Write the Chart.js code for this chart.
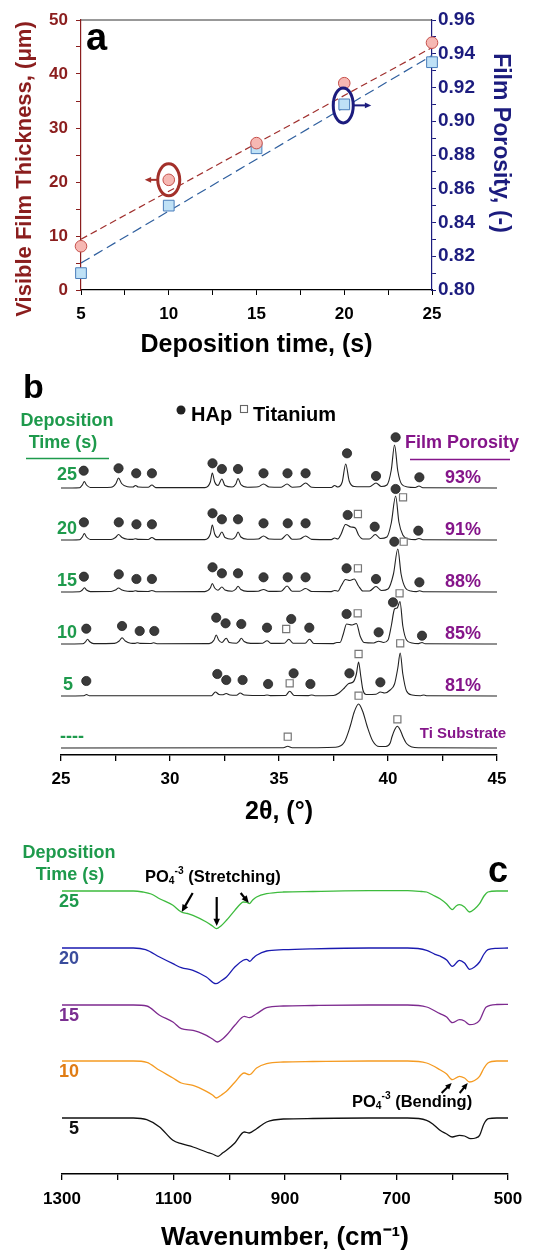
<!DOCTYPE html>
<html>
<head>
<meta charset="utf-8">
<script src="https://cdn.jsdelivr.net/npm/chart.js@4.4.1/dist/chart.umd.min.js"></script>
<style>
html, body { margin: 0; padding: 0; background: #fff; }
body { width: 556px; height: 1253px; position: relative; overflow: hidden; }
.panel { position: absolute; left: 0; width: 556px; }
</style>
</head>
<body>
<div class="panel" style="top:0;height:365px"><canvas id="chartA"></canvas></div>
<div class="panel" style="top:370px;height:470px"><canvas id="chartB"></canvas></div>
<div class="panel" style="top:840px;height:413px"><canvas id="chartC"></canvas></div>
<script>
// ---------- panel a : thickness / porosity vs deposition time ----------
const depTime = [5, 10, 15, 20, 25];
const thickness = [8.1, 20.4, 27.2, 38.3, 45.8];
const porosity = [0.810, 0.850, 0.884, 0.910, 0.935];
const fitTime = [5, 25];
const thickFit = [9.4, 44.9];
const porosityFit = [0.816, 0.939];

// ---------- panel b : XRD, [2theta, counts above baseline] ----------
const xrdLabels = ['25', '20', '15', '10', '5', '----'];
const xrdPorosity = ['93%', '91%', '88%', '85%', '81%', 'Ti Substrate'];
const xrdOffsets = [267, 215, 163, 111, 59, 7];

const xrd25 = [[25,0],[25.85,0.3],[25.98,3],[26.07,6.5],[26.17,3],[26.35,0.5],
  [27.3,0.8],[27.52,4.5],[27.64,10],[27.78,4.5],[28.05,1.2],[28.3,1],[28.42,2.5],[28.55,1],
  [29.0,0.8],[29.17,3],[29.35,0.4],[31.6,0.4],[31.85,6],[31.94,15],[32.05,6],[32.2,2.5],
  [32.38,9],[32.52,2.5],[32.85,1],[33.02,4],[33.12,9.5],[33.25,3.5],[33.55,0.8],
  [34.05,1.2],[34.29,4],[34.55,1],[35.1,0.8],[35.37,4],[35.6,0.8],[35.95,1.2],[36.22,5],[36.5,0.8],
  [37.4,0.5],[37.55,2.5],[37.7,1],[37.9,6],[38.06,24],[38.22,7],[38.45,1.5],
  [39.15,1.2],[39.45,5],[39.7,1.5],[39.95,3],[40.15,18],[40.3,43],[40.45,17],[40.62,4],[40.9,1],
  [41.25,0.5],[41.42,2],[41.6,0.3],[45,0]];
const xrd20 = [[25,0],[25.85,0.3],[25.98,3],[26.07,6.5],[26.17,3],[26.35,0.5],
  [27.3,0.5],[27.5,2.5],[27.64,5.5],[27.8,2.5],[28.05,0.8],[28.3,0.6],[28.42,1.2],[28.55,0.6],
  [29.0,0.5],[29.17,2.5],[29.35,0.4],[31.6,0.4],[31.85,6],[31.94,15],[32.05,6],[32.2,2.5],
  [32.38,8],[32.52,2.5],[32.85,0.8],[33.02,3.5],[33.12,8],[33.25,3],[33.55,0.8],
  [34.05,1],[34.29,4],[34.55,1],[35.1,0.8],[35.37,5.5],[35.6,0.8],[35.95,1],[36.22,4],[36.5,0.6],
  [37.4,0.4],[37.55,2],[37.7,1],[37.85,6],[38.05,15.5],[38.3,13],[38.5,12],[38.65,5],[38.85,1],
  [39.15,1],[39.42,5.5],[39.65,1.5],[39.95,3],[40.15,17],[40.35,44],[40.5,18],[40.68,5],[40.95,1],
  [41.25,0.4],[41.42,1.5],[41.6,0.3],[45,0]];
const xrd15 = [[25,0],[25.85,0.3],[25.98,2],[26.07,4.3],[26.17,2],[26.35,0.4],
  [27.3,0.5],[27.5,2],[27.64,4],[27.8,2],[28.05,0.8],[28.3,0.6],[28.42,1.2],[28.55,0.6],
  [29.0,0.5],[29.17,1.5],[29.35,0.3],[31.6,0.4],[31.85,4],[31.94,8.5],[32.05,4],[32.2,1.8],
  [32.38,5],[32.52,2],[32.85,0.8],[33.02,2.8],[33.12,5.7],[33.25,2.5],[33.55,0.6],
  [34.05,0.8],[34.29,2.5],[34.55,0.6],[35.1,0.8],[35.37,6],[35.6,0.8],[35.95,0.8],[36.22,3.5],[36.5,0.5],
  [37.4,0.4],[37.55,1.5],[37.7,0.8],[37.85,6],[38.05,12.5],[38.25,11.5],[38.45,13],[38.65,6],[38.85,1],
  [39.15,1],[39.45,5.5],[39.7,1.5],[40.0,3],[40.25,18],[40.45,43],[40.6,18],[40.8,4],[41.05,1],
  [41.3,0.4],[41.45,1.2],[41.6,0.3],[45,0]];
const xrd10 = [[25,0],[26.0,0.3],[26.12,2.2],[26.22,4.7],[26.32,2.2],[26.5,0.4],
  [27.45,0.6],[27.67,3],[27.8,6.3],[27.95,3],[28.2,0.8],[28.4,0.6],[28.5,1.2],[28.62,0.6],
  [29.1,0.5],[29.25,1.2],[29.4,0.3],[31.8,0.4],[32.02,4],[32.12,9],[32.23,4],[32.38,1.5],
  [32.58,5.7],[32.72,1.5],[33.05,0.7],[33.17,2.8],[33.27,5.7],[33.4,2.5],[33.7,0.6],
  [34.25,0.8],[34.45,3.3],[34.65,0.6],[35.25,0.8],[35.45,4.7],[35.65,0.8],[36.2,0.8],[36.4,4.7],[36.6,0.5],
  [37.5,0.4],[37.65,1.5],[37.8,1.5],[37.95,10],[38.1,20],[38.35,19],[38.55,20.5],[38.72,8],[38.9,1.5],
  [39.35,1],[39.57,2.8],[39.8,1.5],[40.0,4],[40.15,18],[40.3,35],[40.42,36],[40.55,42.5],[40.68,18],
  [40.85,4],[41.1,1],[41.4,0.4],[41.56,1.5],[41.7,0.3],[45,0]];
const xrd5 = [[25,0],[26.05,0.3],[26.17,1.5],[26.3,0.3],[31.9,0.3],[32.08,4],[32.25,1.5],[32.4,1.2],
  [32.58,2.5],[32.75,1],[33.05,0.8],[33.22,3],[33.4,1],[34.3,0.5],[34.45,1],[34.6,0.4],
  [35.3,0.5],[35.49,4.7],[35.7,0.5],[36.35,0.4],[36.5,1],[36.65,0.3],
  [37.5,0.5],[37.75,3],[38.0,8],[38.2,12.5],[38.4,14],[38.55,22],[38.65,34],[38.75,20],[38.85,6],[39.0,1.5],
  [39.45,1.8],[39.65,4],[39.85,3],[40.1,6],[40.3,12],[40.45,28],[40.56,43],[40.68,22],[40.85,5],[41.1,1],
  [41.5,0.3],[41.65,1],[41.8,0.2],[45,0]];
const xrdTi = [[25,0],[35.2,0.3],[35.4,1.7],[35.6,0.3],[37.6,0.8],[38.0,6],[38.27,22],[38.45,36],
  [38.65,44],[38.85,36],[39.04,22],[39.3,7],[39.6,1.5],[39.9,1.5],[40.1,5],[40.18,11],[40.3,18],
  [40.43,21.7],[40.56,18],[40.69,11],[40.85,4.5],[41.1,1],[41.4,0.2],[45,0]];

// phase markers: [2theta, height above baseline]
const hap25 = [[26.04,17.3],[27.64,19.7],[28.45,14.7],[29.17,14.7],[31.95,24.7],[32.38,19],[33.12,19],
  [34.29,14.7],[35.39,14.7],[36.22,14.7],[38.12,34.7],[39.45,12],[40.35,50.7],[41.44,10.7]];
const hap20 = [[26.05,17.7],[27.65,17.7],[28.46,15.7],[29.17,15.7],[31.95,26.7],[32.38,20.7],[33.12,20.7],
  [34.29,16.7],[35.4,16.7],[36.22,16.7],[38.15,25],[39.39,13.3],[40.35,51],[41.39,9.3]];
const hap15 = [[26.05,15.3],[27.65,17.7],[28.46,13],[29.17,13],[31.95,24.7],[32.38,18.7],[33.12,18.7],
  [34.29,14.7],[35.4,14.7],[36.22,14.7],[38.1,23.7],[39.45,13],[40.29,50.3],[41.44,9.7]];
const hap10 = [[26.16,15.3],[27.8,18],[28.61,13],[29.28,13],[32.12,26.3],[32.55,20.7],[33.27,20],
  [34.45,16.3],[35.56,25],[36.39,16.3],[38.1,30],[39.57,11.7],[40.23,41.7],[41.56,8.3]];
const hap5 = [[26.16,15],[32.17,22],[32.58,16],[33.33,16],[34.5,12],[35.67,22.7],[36.44,12],
  [38.23,22.7],[39.65,13.7]];
const ti25 = [];
const ti20 = [[38.62,26],[40.69,42.7]];
const ti15 = [[38.62,23.7],[40.72,50.3]];
const ti10 = [[35.33,15],[38.61,30.7],[40.53,50.7]];
const ti5 = [[35.49,12.7],[38.65,42],[40.56,52.7]];
const tiTi = [[35.4,11.3],[38.65,52.3],[40.43,28.7]];

// ---------- panel c : FTIR, [wavenumber, transmittance change] ----------
const ftirLabels = ['25', '20', '15', '10', '5'];
const ftirOffsets = [283, 226, 169, 113, 56];
const ftir25 = [[1300,0],[1250,0],[1172,0],[1155,-1],[1140,-3],[1125,-7.7],[1101,-14.3],[1086,-21],
  [1075,-22.5],[1065,-24.3],[1041,-31],[1030,-35],[1023,-37.7],[1015,-35],[1005,-29.3],[990,-19.3],
  [980,-13],[975,-11],[968,-11.5],[964,-12.7],[958,-9],[951,-6],[933,-2.7],[903,-1],[850,-0.5],
  [750,0.3],[680,0.3],[655,-0.5],[646,-1],[635,-4],[622,-7.7],[610,-13],[600,-18.7],[593,-15],
  [587,-13.7],[578,-16],[569,-21],[560,-18],[551,-12.7],[543,-5],[536,-1],[520,0],[500,0]];
const ftir20 = [[1300,0],[1172,0],[1150,-1.7],[1125,-9],[1101,-15.7],[1086,-19.7],[1065,-22.3],
  [1041,-29],[1024,-35.7],[1015,-33],[1005,-29],[990,-19],[975,-12.3],[969,-11.3],[963,-13.3],
  [957,-10],[951,-7.3],[933,-3],[903,-1.7],[850,-0.8],[750,0],[680,0],[646,-2.3],[631,-6.3],
  [622,-8],[610,-12],[600,-18.3],[587,-12.3],[578,-15],[569,-21.3],[560,-19],[551,-14],[543,-6],
  [536,-1.7],[520,-0.3],[500,0]];
const ftir15 = [[1300,0],[1172,0],[1148,-1],[1125,-10.3],[1101,-17],[1086,-23.7],[1065,-25.3],
  [1041,-30.3],[1030,-34],[1021,-37],[1012,-34],[1005,-30.3],[990,-20.3],[973,-11.3],[964,-12.7],
  [951,-8.7],[933,-2.7],[903,-1],[850,-0.5],[750,0],[680,0],[646,-2],[622,-8.7],[610,-12],
  [600,-17.7],[587,-14.7],[578,-16],[569,-19.7],[560,-19],[551,-15.3],[539,-2],[520,0.5],[500,0.7]];
const ftir10 = [[1300,0],[1172,0],[1148,-1.3],[1125,-9.3],[1101,-17],[1086,-22],[1065,-24.3],
  [1041,-30.3],[1030,-34],[1023,-37],[1014,-34],[1005,-30.3],[990,-21.3],[973,-12],[964,-13.7],
  [951,-7],[933,-2.7],[903,-1],[850,-0.5],[750,0],[680,0],[646,-2],[622,-8.7],[610,-13],
  [600,-18.7],[587,-15.3],[578,-17],[569,-21],[560,-19.5],[551,-15.3],[543,-7],[536,-2],[520,0],[500,0]];
const ftir5 = [[1300,0],[1172,0],[1148,-1.7],[1125,-9],[1101,-22.3],[1086,-25.7],[1065,-29],
  [1041,-34],[1030,-36],[1020,-38.3],[1012,-35],[1005,-32.3],[990,-25],[973,-14],[964,-15],
  [951,-10.7],[933,-4],[903,-1],[850,-0.5],[750,0],[680,0],[646,-2.3],[635,-6],[622,-12.3],
  [610,-16],[600,-19],[587,-17.3],[578,-18],[567,-20.7],[558,-20],[551,-17.3],[543,-5.7],
  [535,-0.7],[520,0],[500,0]];

// annotation arrows [x1, y1, x2, y2] in data units
const stretchArrows = [[1065.6,281,1085.3,262],[1022.5,277,1022.5,248],[979.5,281,965,271]];
const bendArrows = [[619,81,601,91],[586.7,81,572.3,91]];

const FONT = "'Liberation Sans', Arial, Helvetica, sans-serif";
Chart.defaults.font.family = FONT;
Chart.defaults.font.weight = 'bold';
Chart.defaults.animation = false;

const GREEN = '#1E9A4C';
const PURPLE = '#85158A';
const RED = '#8B1E1E';
const NAVY = '#1C1C7E';

function arrow(ctx, x1, y1, x2, y2, color, lw, head) {
  const a = Math.atan2(y2 - y1, x2 - x1);
  ctx.strokeStyle = color;
  ctx.fillStyle = color;
  ctx.lineWidth = lw;
  ctx.beginPath();
  ctx.moveTo(x1, y1);
  ctx.lineTo(x2 - Math.cos(a) * head * 0.7, y2 - Math.sin(a) * head * 0.7);
  ctx.stroke();
  ctx.beginPath();
  ctx.moveTo(x2, y2);
  ctx.lineTo(x2 - head * Math.cos(a - 0.42), y2 - head * Math.sin(a - 0.42));
  ctx.lineTo(x2 - head * Math.cos(a + 0.42), y2 - head * Math.sin(a + 0.42));
  ctx.closePath();
  ctx.fill();
}

function richText(ctx, parts, x, y, size) {
  let cx = x;
  ctx.textAlign = 'left';
  ctx.textBaseline = 'middle';
  for (const [t, m] of parts) {
    const s = m ? size * 0.62 : size;
    ctx.font = 'bold ' + s + 'px ' + FONT;
    const dy = m === 'sub' ? size * 0.28 : m === 'sup' ? -size * 0.38 : 0;
    ctx.fillText(t, cx, y + dy);
    cx += ctx.measureText(t).width;
  }
}

function text(ctx, t, x, y, size, color, align) {
  ctx.font = 'bold ' + size + 'px ' + FONT;
  ctx.fillStyle = color;
  ctx.textAlign = align || 'center';
  ctx.textBaseline = 'middle';
  ctx.fillText(t, x, y);
}

function rotText(ctx, t, x, y, size, color, angle) {
  ctx.save();
  ctx.translate(x, y);
  ctx.rotate(angle);
  text(ctx, t, 0, 0, size, color);
  ctx.restore();
}

// ---------------- panel a ----------------
const annotA = {
  id: 'annotA',
  afterDatasetsDraw(chart) {
    const { ctx, chartArea: ca, scales: { x, y, y1 } } = chart;
    ctx.save();
    ctx.strokeStyle = '#333';
    ctx.lineWidth = 1;
    ctx.beginPath();
    ctx.moveTo(ca.left, ca.top);
    ctx.lineTo(ca.right, ca.top);
    ctx.stroke();

    const rx = x.getPixelForValue(depTime[1]), ry = y.getPixelForValue(thickness[1]);
    ctx.strokeStyle = '#A3302A';
    ctx.lineWidth = 3;
    ctx.beginPath();
    ctx.ellipse(rx, ry, 11, 16, 0, 0, Math.PI * 2);
    ctx.stroke();
    arrow(ctx, rx - 11, ry, rx - 24, ry, '#A3302A', 2, 7);

    const bx = x.getPixelForValue(depTime[3]), by = y1.getPixelForValue(porosity[3]);
    ctx.strokeStyle = NAVY;
    ctx.lineWidth = 3;
    ctx.beginPath();
    ctx.ellipse(bx - 1, by + 1, 10, 17.5, 0, 0, Math.PI * 2);
    ctx.stroke();
    arrow(ctx, bx + 9, by + 1, bx + 27, by + 1, NAVY, 2, 7);

    ctx.fillStyle = '#000';
    ctx.font = 'bold 38px ' + FONT;
    ctx.textAlign = 'left';
    ctx.textBaseline = 'alphabetic';
    ctx.fillText('a', 86, 50);

    // axis titles
    rotText(ctx, 'Visible Film Thickness, (\u03BCm)', 25, 169, 22, RED, -Math.PI / 2);
    rotText(ctx, 'Film Porosity, (-)', 500, 143, 23, NAVY, Math.PI / 2);
    ctx.restore();
  }
};

new Chart(document.getElementById('chartA'), {
  type: 'scatter',
  data: {
    datasets: [
      { data: depTime.map((t, i) => ({ x: t, y: thickness[i] })), yAxisID: 'y',
        pointStyle: 'circle', pointRadius: 5.8, backgroundColor: '#F6B8B3', borderColor: '#C5504B',
        borderWidth: 1, clip: false, order: 1 },
      { data: depTime.map((t, i) => ({ x: t, y: porosity[i] })), yAxisID: 'y1',
        pointStyle: 'rect', pointRadius: 7.6, backgroundColor: '#BFE1F6', borderColor: '#4A7EBB',
        borderWidth: 1, clip: false, order: 1 },
      { data: fitTime.map((t, i) => ({ x: t, y: thickFit[i] })), yAxisID: 'y', showLine: true,
        borderColor: '#A0302E', borderDash: [7, 4], borderWidth: 1.2, pointRadius: 0, order: 2 },
      { data: fitTime.map((t, i) => ({ x: t, y: porosityFit[i] })), yAxisID: 'y1', showLine: true,
        borderColor: '#2F5F9E', borderDash: [10, 5], borderWidth: 1.2, pointRadius: 0, order: 2 }
    ]
  },
  options: {
    responsive: true,
    maintainAspectRatio: false,
    layout: { padding: { top: 20, left: 0, right: 0, bottom: 0 } },
    plugins: { legend: { display: false }, tooltip: { enabled: false } },
    scales: {
      x: {
        type: 'linear', min: 5, max: 25,
        ticks: { stepSize: 2.5, autoSkip: false, maxRotation: 0, color: '#000', padding: 9,
          font: { size: 17, weight: 'bold' }, callback: v => (v % 5 === 0 ? v : '') },
        grid: { drawOnChartArea: false, tickLength: 5, color: '#000' },
        border: { color: '#000', width: 1.2 },
        title: { display: true, text: 'Deposition time, (s)', color: '#000',
          font: { size: 25, weight: 'bold' }, padding: { top: 0, bottom: 5 } },
        afterFit: s => { s.height = 75; }
      },
      y: {
        position: 'left', min: 0, max: 50,
        ticks: { stepSize: 5, autoSkip: false, color: RED, padding: 8,
          font: { size: 17, weight: 'bold' }, callback: v => (v % 10 === 0 ? v : '') },
        grid: { drawOnChartArea: false, tickLength: 5, color: RED },
        border: { color: RED, width: 1.2 },
        afterFit: s => { s.width = 81; }
      },
      y1: {
        position: 'right', min: 0.8, max: 0.96,
        ticks: { stepSize: 0.01, autoSkip: false, color: NAVY, padding: 2,
          font: { size: 19, weight: 'bold' },
          callback: v => (Math.round(v * 100) % 2 === 0 ? v.toFixed(2) : '') },
        grid: { drawOnChartArea: false, tickLength: 4, color: NAVY },
        border: { color: NAVY, width: 1.2 },
        afterFit: s => { s.width = 124; }
      }
    }
  },
  plugins: [annotA]
});

// ---------------- panel b ----------------
const xrdSeries = [xrd25, xrd20, xrd15, xrd10, xrd5, xrdTi];
const hapSeries = [hap25, hap20, hap15, hap10, hap5, []];
const tiSeries = [ti25, ti20, ti15, ti10, ti5, tiTi];
const dsB = [];
xrdSeries.forEach((s, i) => {
  const off = xrdOffsets[i];
  dsB.push({ data: hapSeries[i].map(p => ({ x: p[0], y: off + p[1] })), pointStyle: 'circle',
    pointRadius: 4.6, backgroundColor: '#3a3a3a', borderColor: '#222', borderWidth: 0.8,
    showLine: false, clip: false, order: 1 });
  dsB.push({ data: tiSeries[i].map(p => ({ x: p[0], y: off + p[1] })), pointStyle: 'rect',
    pointRadius: 5, backgroundColor: '#fff', borderColor: '#777', borderWidth: 1.2,
    showLine: false, clip: false, order: 1 });
  dsB.push({ data: s.map(p => ({ x: p[0], y: off + p[1] })), showLine: true, borderColor: '#222',
    borderWidth: 1.1, pointRadius: 0, cubicInterpolationMode: 'monotone', clip: false, order: 2 });
});

const textB = {
  id: 'textB',
  afterDraw(chart) {
    const { ctx, scales: { y } } = chart;
    ctx.save();
    ctx.fillStyle = '#000';
    ctx.font = 'bold 34px ' + FONT;
    ctx.textAlign = 'left';
    ctx.textBaseline = 'alphabetic';
    ctx.fillText('b', 23, 28);

    // legend
    ctx.fillStyle = '#222';
    ctx.beginPath();
    ctx.arc(181, 40, 4.5, 0, Math.PI * 2);
    ctx.fill();
    text(ctx, 'HAp', 191, 45, 20, '#000', 'left');
    ctx.strokeStyle = '#666';
    ctx.lineWidth = 1.1;
    ctx.strokeRect(240.5, 35.5, 7, 7);
    text(ctx, 'Titanium', 253, 45, 20, '#000', 'left');

    // headers
    text(ctx, 'Deposition', 67, 51, 18, GREEN);
    text(ctx, 'Time (s)', 63, 73, 18, GREEN);
    ctx.strokeStyle = GREEN;
    ctx.lineWidth = 1.6;
    ctx.beginPath(); ctx.moveTo(26, 88.5); ctx.lineTo(109, 88.5); ctx.stroke();
    text(ctx, 'Film Porosity', 462, 73, 18, PURPLE);
    ctx.strokeStyle = PURPLE;
    ctx.beginPath(); ctx.moveTo(410, 89.5); ctx.lineTo(510, 89.5); ctx.stroke();

    xrdLabels.forEach((lab, i) => {
      const yy = y.getPixelForValue(xrdOffsets[i] + (i === 0 ? 13 : 11));
      text(ctx, lab, i === 5 ? 72 : (i === 4 ? 68 : 67), yy, 18, GREEN);
      const py = y.getPixelForValue(xrdOffsets[i] + (i === 5 ? 14 : 10));
      text(ctx, xrdPorosity[i], 463, py, i === 5 ? 15 : 18, PURPLE);
    });
    ctx.restore();
  }
};

new Chart(document.getElementById('chartB'), {
  type: 'scatter',
  data: { datasets: dsB },
  options: {
    responsive: true,
    maintainAspectRatio: false,
    layout: { padding: { top: 30, left: 61, right: 59, bottom: 0 } },
    plugins: { legend: { display: false }, tooltip: { enabled: false } },
    scales: {
      x: {
        type: 'linear', min: 25, max: 45,
        ticks: { stepSize: 2.5, autoSkip: false, maxRotation: 0, color: '#000', padding: 8,
          font: { size: 17, weight: 'bold' }, callback: v => (v % 5 === 0 ? v : '') },
        grid: { drawOnChartArea: false, tickLength: 6, color: '#000', lineWidth: 1.3 },
        border: { color: '#000', width: 1.5 },
        title: { display: true, text: '2\u03B8, (\u00B0)', color: '#000',
          font: { size: 25, weight: 'bold' }, padding: { top: 0, bottom: 13 } },
        afterFit: s => { s.height = 85; }
      },
      y: { display: false, min: 0, max: 355 }
    }
  },
  plugins: [textB]
});

// ---------------- panel c ----------------
const ftirSeries = [ftir25, ftir20, ftir15, ftir10, ftir5];
const ftirColors = ['#3DBB3D', '#1A1AB0', '#7D2A8F', '#F59B22', '#111111'];
const ftirLabelColors = [GREEN, '#3A4C9C', '#7A2F91', '#E07C14', '#111111'];
const dsC = ftirSeries.map((s, i) => ({
  data: s.map(p => ({ x: p[0], y: ftirOffsets[i] + p[1] })), showLine: true,
  borderColor: ftirColors[i], borderWidth: 1.3, pointRadius: 0,
  cubicInterpolationMode: 'monotone', clip: false
}));

const textC = {
  id: 'textC',
  afterDraw(chart) {
    const { ctx, scales: { x, y } } = chart;
    ctx.save();
    text(ctx, 'Deposition', 69, 13, 18, GREEN);
    text(ctx, 'Time (s)', 70, 35, 18, GREEN);
    ctx.fillStyle = '#000';
    ctx.font = 'bold 36px ' + FONT;
    ctx.textAlign = 'left';
    ctx.textBaseline = 'alphabetic';
    ctx.fillText('c', 488, 42);

    ctx.fillStyle = '#000';
    richText(ctx, [['PO'], ['4', 'sub'], ['-3', 'sup'], [' (Stretching)']], 145, 37, 16.5);
    richText(ctx, [['PO'], ['4', 'sub'], ['-3', 'sup'], [' (Bending)']], 352, 262, 16.5);

    ftirLabels.forEach((lab, i) => {
      const yy = y.getPixelForValue(ftirOffsets[i] - 11);
      text(ctx, lab, i === 4 ? 74 : 69, yy, 18, ftirLabelColors[i]);
    });

    stretchArrows.forEach(a => arrow(ctx, x.getPixelForValue(a[0]), y.getPixelForValue(a[1]),
      x.getPixelForValue(a[2]), y.getPixelForValue(a[3]), '#000', 2.2, 8));
    bendArrows.forEach(a => arrow(ctx, x.getPixelForValue(a[0]), y.getPixelForValue(a[1]),
      x.getPixelForValue(a[2]), y.getPixelForValue(a[3]), '#000', 2, 7));
    ctx.restore();
  }
};

new Chart(document.getElementById('chartC'), {
  type: 'scatter',
  data: { datasets: dsC },
  options: {
    responsive: true,
    maintainAspectRatio: false,
    layout: { padding: { top: 40, left: 62, right: 48, bottom: 0 } },
    plugins: { legend: { display: false }, tooltip: { enabled: false } },
    scales: {
      x: {
        type: 'linear', min: 500, max: 1300, reverse: true,
        ticks: { stepSize: 100, autoSkip: false, maxRotation: 0, color: '#000', padding: 9,
          font: { size: 17, weight: 'bold' }, callback: v => ((v - 100) % 200 === 0 ? v : '') },
        grid: { drawOnChartArea: false, tickLength: 6, color: '#000', lineWidth: 1.3 },
        border: { color: '#000', width: 1.5 },
        title: { display: true, text: 'Wavenumber, (cm\u207B\u00B9)', color: '#000',
          font: { size: 26, weight: 'bold' }, padding: { top: 0, bottom: 0 } },
        afterFit: s => { s.height = 79; }
      },
      y: { display: false, min: 0, max: 294 }
    }
  },
  plugins: [textC]
});
</script>
</body>
</html>
